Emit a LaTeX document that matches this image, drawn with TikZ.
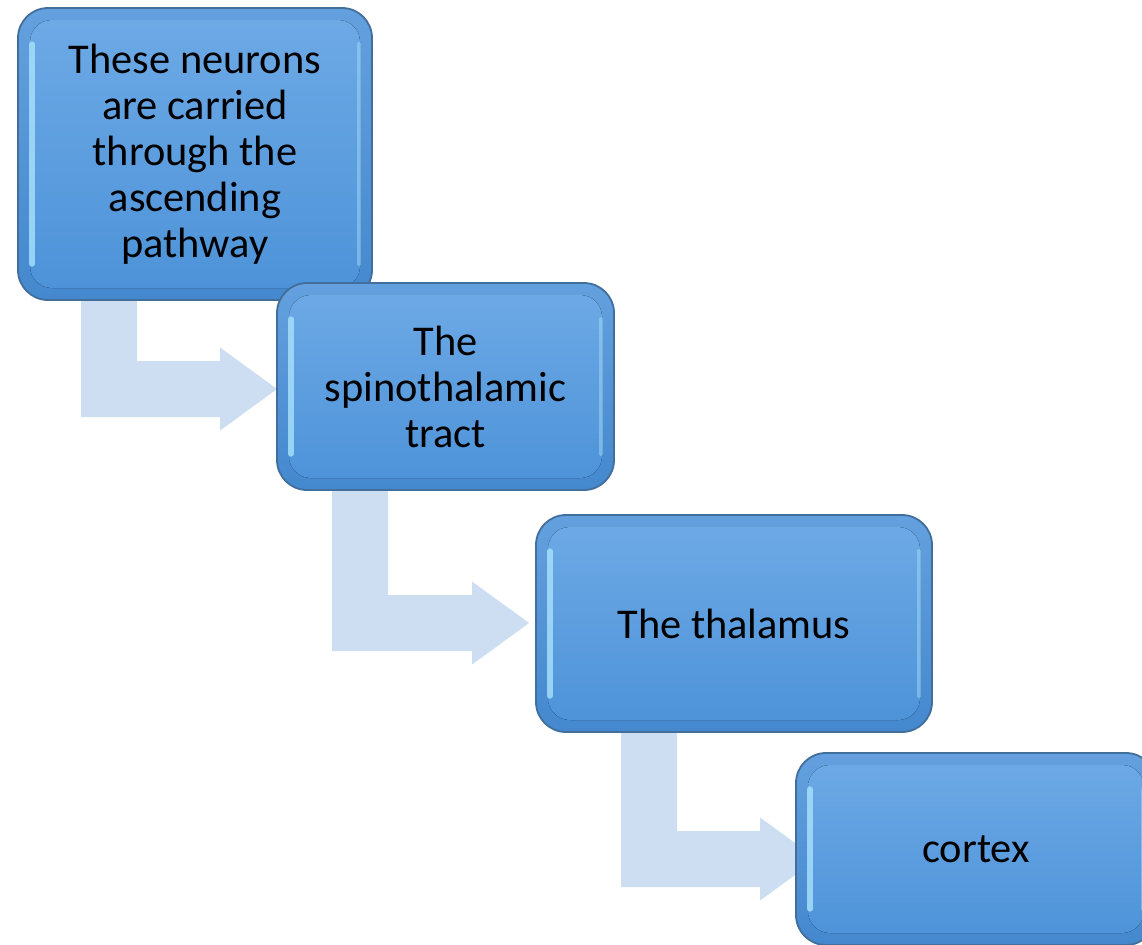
\documentclass[tikz,border=0pt]{standalone}
\usepackage{fontspec}
\setmainfont{Carlito}
\usetikzlibrary{calc,backgrounds}

\definecolor{boxtop}{RGB}{100,160,222}
\definecolor{boxbot}{RGB}{68,136,206}
\definecolor{boxedge}{RGB}{66,110,156}
\definecolor{facetop}{RGB}{110,170,230}
\definecolor{facebot}{RGB}{76,146,216}
\definecolor{glint}{RGB}{168,226,252}
\definecolor{flowfill}{RGB}{205,222,243}

\tikzset{
  stepbox/.style={
    draw=boxedge, line width=0.9pt, rounded corners=15pt,
    top color=boxtop, bottom color=boxbot,
    align=center, inner sep=0pt,
    font=\fontsize{21.2}{23}\selectfont,
    path picture={
      \fill[rounded corners=11pt, top color=facetop, bottom color=facebot]
        ($(path picture bounding box.north west)+(12,12)$) rectangle
        ($(path picture bounding box.south east)+(-12,-12)$);
      \draw[glint, opacity=0.8, line width=2.6pt, line cap=round]
        ($(path picture bounding box.north west)+(14,36)$) --
        ($(path picture bounding box.south west)+(14,-36)$);
      \draw[glint, opacity=0.45, line width=2pt, line cap=round]
        ($(path picture bounding box.north east)+(-13,36)$) --
        ($(path picture bounding box.south east)+(-13,-36)$);
    }
  },
  flow/.style={fill=flowfill, draw=none},
}

% bent block arrow: #1 source box, #2 target box,
% #3 stem offset from the source's left edge, #4 tip offset from the target's west anchor
\newcommand\bentflow[4]{%
  \coordinate (sl) at ($(#1.south west)+(#3,-20)$);
  \coordinate (sr) at ($(sl)+(56,0)$);
  \coordinate (tp) at ($(#2.west)+#4$);
  \coordinate (hu) at ($(tp)+(-57,-41.5)$);
  \coordinate (hd) at ($(tp)+(-57,41.5)$);
  \coordinate (su) at ($(tp)+(-57,-28)$);
  \coordinate (sd) at ($(tp)+(-57,28)$);
  \fill[flow] (sl) -- (sr) -- (sr |- su) -- (su) -- (hu) -- (tp)
    -- (hd) -- (sd) -- (sl |- sd) -- cycle;
}

\begin{document}
\begin{tikzpicture}[x=0.5pt,y=-0.5pt]
\useasboundingbox (0,0) rectangle (1142,944);

\node[stepbox, minimum width=177pt, minimum height=146pt] (b1) at (195,154)
  {These neurons\\are carried\\through the\\ascending\\pathway};
\node[stepbox, minimum width=168.5pt, minimum height=103.5pt] (b2) at (445.5,386.5)
  {The\\spinothalamic\\tract};
\node[stepbox, minimum width=198pt, minimum height=108.5pt] (b3) at (734,623.5)
  {The thalamus};
\node[stepbox, minimum width=180pt, minimum height=96pt] (b4) at (976,849)
  {cortex};

\begin{scope}[on background layer]
  \bentflow{b1}{b2}{64}{(1,2.5)}
  \bentflow{b2}{b3}{56}{(-6,-0.5)}
  \bentflow{b3}{b4}{86}{(22,10)}
\end{scope}
\end{tikzpicture}
\end{document}
